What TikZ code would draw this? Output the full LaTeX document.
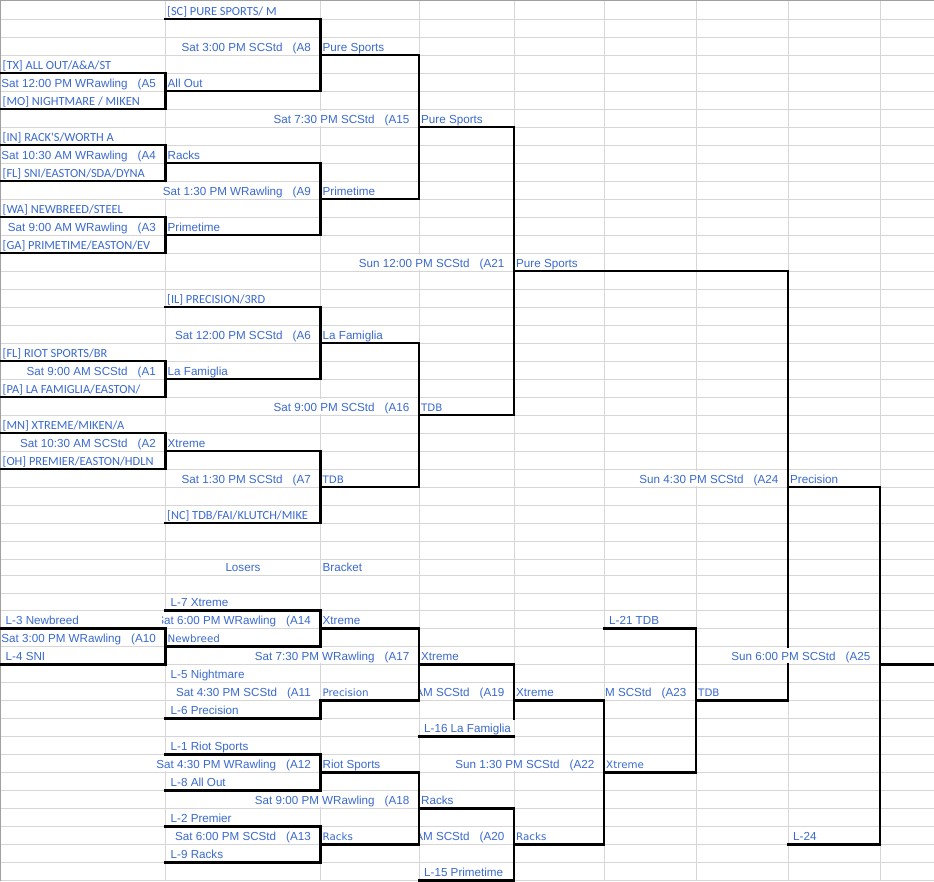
\documentclass[tikz,border=0pt]{standalone}
\usepackage{fontspec}
\setmainfont{Liberation Sans}
\newfontfamily\calfont{Carlito}
\newfontfamily\verfont{DejaVu Sans}
\definecolor{tblue}{RGB}{58,106,206}
\definecolor{gridc}{RGB}{214,214,214}
\definecolor{edgec}{RGB}{160,160,160}
\newcommand{\sgap}{\hspace*{10pt}}
\pgfmathdeclarefunction{rb}{1}{%
  \pgfmathparse{(#1<32)*(1+18*#1)+(#1==32)*575.7+(#1==33)*593+(#1==34)*610.3+(#1>34)*(18*#1-1.7)}%
}
\tikzset{
  cell/.style={inner sep=0pt, text height=12.5pt, text depth=2.8pt, text=tblue},
  ar/.style={cell, font=\fontsize{11.65pt}{13pt}\selectfont},
  cb/.style={cell, font=\calfont\fontsize{12.4pt}{13pt}\selectfont},
  sm/.style={cell, font=\verfont\fontsize{10.3pt}{12pt}\selectfont},
  ovf/.style={fill=white},
  lft/.style={anchor=base west},
  rgt/.style={anchor=base east},
  gridline/.style={draw=gridc, line width=0.9pt},
  edgeline/.style={draw=edgec, line width=1.2pt},
  brk/.style={draw=black, line width=2.75pt, line join=miter, line cap=rect}
}
\begin{document}
\begin{tikzpicture}[x=1pt,y=-1pt]
\useasboundingbox (0,0) rectangle (934,881);
\fill[white] (0,0) rectangle (934,881);
% grid
\foreach \k in {1,...,49}{\draw[gridline] (0,{rb(\k)}) -- (934,{rb(\k)});}
\foreach \xx in {165.5,320.5,419,514,604,696,788,880}{\draw[gridline] (\xx,0) -- (\xx,881);}
\draw[edgeline] (0,0.8) -- (934,0.8);
\draw[edgeline] (0.8,0) -- (0.8,881);

% winners bracket lines
\draw[brk] (165.5,{rb(1)}) -- (320.5,{rb(1)}) -- (320.5,{rb(5)}) -- (165.5,{rb(5)});
\draw[brk] (0,{rb(4)}) -- (165.5,{rb(4)}) -- (165.5,{rb(6)}) -- (0,{rb(6)});
\draw[brk] (320.5,{rb(3)}) -- (419,{rb(3)}) -- (419,{rb(11)}) -- (320.5,{rb(11)});
\draw[brk] (0,{rb(8)}) -- (165.5,{rb(8)}) -- (165.5,{rb(10)}) -- (0,{rb(10)});
\draw[brk] (165.5,{rb(9)}) -- (320.5,{rb(9)}) -- (320.5,{rb(13)}) -- (165.5,{rb(13)});
\draw[brk] (0,{rb(12)}) -- (165.5,{rb(12)}) -- (165.5,{rb(14)}) -- (0,{rb(14)});
\draw[brk] (419,{rb(7)}) -- (514,{rb(7)}) -- (514,{rb(23)}) -- (419,{rb(23)});
\draw[brk] (514,{rb(15)}) -- (788,{rb(15)}) -- (788,{rb(39)}) -- (696,{rb(39)});
\draw[brk] (165.5,{rb(17)}) -- (320.5,{rb(17)}) -- (320.5,{rb(21)}) -- (165.5,{rb(21)});
\draw[brk] (0,{rb(20)}) -- (165.5,{rb(20)}) -- (165.5,{rb(22)}) -- (0,{rb(22)});
\draw[brk] (320.5,{rb(19)}) -- (419,{rb(19)}) -- (419,{rb(27)}) -- (320.5,{rb(27)});
\draw[brk] (0,{rb(24)}) -- (165.5,{rb(24)}) -- (165.5,{rb(26)}) -- (0,{rb(26)});
\draw[brk] (165.5,{rb(25)}) -- (320.5,{rb(25)}) -- (320.5,{rb(29)}) -- (165.5,{rb(29)});
\draw[brk] (788,{rb(27)}) -- (880,{rb(27)}) -- (880,{rb(47)}) -- (788,{rb(47)});
\draw[brk] (880,{rb(37)}) -- (940,{rb(37)});
% losers bracket lines
\draw[brk] (165.5,{rb(34)}) -- (320.5,{rb(34)}) -- (320.5,{rb(36)}) -- (165.5,{rb(36)});
\draw[brk] (0,{rb(35)}) -- (165.5,{rb(35)}) -- (165.5,{rb(37)}) -- (0,{rb(37)});
\draw[brk] (320.5,{rb(35)}) -- (419,{rb(35)}) -- (419,{rb(39)}) -- (320.5,{rb(39)}) -- (320.5,{rb(40)}) -- (165.5,{rb(40)});
\draw[brk] (604,{rb(35)}) -- (696,{rb(35)}) -- (696,{rb(43)}) -- (604,{rb(43)});
\draw[brk] (419,{rb(37)}) -- (514,{rb(37)}) -- (514,{rb(40)});
\draw[brk] (419,{rb(41)}) -- (514,{rb(41)});
\draw[brk] (514,{rb(39)}) -- (604,{rb(39)}) -- (604,{rb(47)}) -- (514,{rb(47)});
\draw[brk] (165.5,{rb(42)}) -- (320.5,{rb(42)}) -- (320.5,{rb(44)}) -- (165.5,{rb(44)});
\draw[brk] (320.5,{rb(43)}) -- (419,{rb(43)}) -- (419,{rb(47)}) -- (320.5,{rb(47)});
\draw[brk] (165.5,{rb(46)}) -- (320.5,{rb(46)}) -- (320.5,{rb(48)}) -- (165.5,{rb(48)});
\draw[brk] (419,{rb(45)}) -- (514,{rb(45)}) -- (514,{rb(49)}) -- (419,{rb(49)});

% winners bracket texts
\node[cb,lft] (t1) at (167,{rb(1)-4}) {[SC] PURE SPORTS/ M};
\node[ar,rgt] (t2) at (311,{rb(3)-4}) {Sat 3:00 PM SCStd\sgap(A8};
\node[ar,lft] (t3) at (322.5,{rb(3)-4}) {Pure Sports};
\node[cb,lft] (t4) at (2.5,{rb(4)-4}) {[TX] ALL OUT/A\&A/ST};
\node[ar,rgt] (t5) at (156,{rb(5)-4}) {Sat 12:00 PM WRawling\sgap(A5};
\node[ar,lft] (t6) at (167.5,{rb(5)-4}) {All Out};
\node[cb,lft] (t7) at (2.5,{rb(6)-4}) {[MO] NIGHTMARE / MIKEN};
\node[ar,rgt,ovf] (t8) at (409.5,{rb(7)-4}) {Sat 7:30 PM SCStd\sgap(A15};
\node[ar,lft] (t9) at (421,{rb(7)-4}) {Pure Sports};
\node[cb,lft] (t10) at (2.5,{rb(8)-4}) {[IN] RACK\textquotesingle S/WORTH A};
\node[ar,rgt] (t11) at (156,{rb(9)-4}) {Sat 10:30 AM WRawling\sgap(A4};
\node[ar,lft] (t12) at (167.5,{rb(9)-4}) {Racks};
\node[cb,lft] (t13) at (2.5,{rb(10)-4}) {[FL] SNI/EASTON/SDA/DYNA};
\node[ar,rgt,ovf] (t14) at (311,{rb(11)-4}) {Sat 1:30 PM WRawling\sgap(A9};
\node[ar,lft] (t15) at (322.5,{rb(11)-4}) {Primetime};
\node[cb,lft] (t16) at (2.5,{rb(12)-4}) {[WA] NEWBREED/STEEL};
\node[ar,rgt] (t17) at (156,{rb(13)-4}) {Sat 9:00 AM WRawling\sgap(A3};
\node[ar,lft] (t18) at (167.5,{rb(13)-4}) {Primetime};
\node[cb,lft] (t19) at (2.5,{rb(14)-4}) {[GA] PRIMETIME/EASTON/EV};
\node[ar,rgt,ovf] (t20) at (504.5,{rb(15)-4}) {Sun 12:00 PM SCStd\sgap(A21};
\node[ar,lft] (t21) at (516,{rb(15)-4}) {Pure Sports};
\node[cb,lft] (t22) at (167,{rb(17)-4}) {[IL] PRECISION/3RD};
\node[ar,rgt] (t23) at (311,{rb(19)-4}) {Sat 12:00 PM SCStd\sgap(A6};
\node[ar,lft] (t24) at (322.5,{rb(19)-4}) {La Famiglia};
\node[cb,lft] (t25) at (2.5,{rb(20)-4}) {[FL] RIOT SPORTS/BR};
\node[ar,rgt] (t26) at (156,{rb(21)-4}) {Sat 9:00 AM SCStd\sgap(A1};
\node[ar,lft] (t27) at (167.5,{rb(21)-4}) {La Famiglia};
\node[cb,lft] (t28) at (2.5,{rb(22)-4}) {[PA] LA FAMIGLIA/EASTON/};
\node[ar,rgt,ovf] (t29) at (409.5,{rb(23)-4}) {Sat 9:00 PM SCStd\sgap(A16};
\node[sm,lft] (t30) at (421,{rb(23)-4}) {TDB};
\node[cb,lft] (t31) at (2.5,{rb(24)-4}) {[MN] XTREME/MIKEN/A};
\node[ar,rgt] (t32) at (156,{rb(25)-4}) {Sat 10:30 AM SCStd\sgap(A2};
\node[ar,lft] (t33) at (167.5,{rb(25)-4}) {Xtreme};
\node[cb,lft] (t34) at (2.5,{rb(26)-4}) {[OH] PREMIER/EASTON/HDLN};
\node[ar,rgt] (t35) at (311,{rb(27)-4}) {Sat 1:30 PM SCStd\sgap(A7};
\node[sm,lft] (t36) at (322.5,{rb(27)-4}) {TDB};
\node[ar,rgt,ovf] (t37) at (778.5,{rb(27)-4}) {Sun 4:30 PM SCStd\sgap(A24};
\node[ar,lft] (t38) at (790,{rb(27)-4}) {Precision};
\node[cb,lft] (t39) at (167,{rb(29)-4}) {[NC] TDB/FAI/KLUTCH/MIKE};

% losers bracket texts
\node[ar,anchor=base] (t40) at (243,{rb(32)-4}) {Losers};
\node[ar,lft] (t41) at (322.5,{rb(32)-4}) {Bracket};
\node[ar,lft] (t42) at (170.5,{rb(34)-4}) {L-7 Xtreme};
\node[ar,lft] (t43) at (5.5,{rb(35)-4}) {L-3 Newbreed};
\begin{scope}
\clip (162,0) rectangle (934,881);
\node[ar,rgt,ovf] (t44) at (311,{rb(35)-4}) {Sat 6:00 PM WRawling\sgap(A14};
\end{scope}
\node[ar,lft] (t45) at (322.5,{rb(35)-4}) {Xtreme};
\node[ar,lft] (t46) at (609,{rb(35)-4}) {L-21 TDB};
\node[ar,rgt] (t47) at (156,{rb(36)-4}) {Sat 3:00 PM WRawling\sgap(A10};
\node[sm,lft] (t48) at (167.5,{rb(36)-4}) {Newbreed};
\node[ar,lft] (t49) at (5.5,{rb(37)-4}) {L-4 SNI};
\node[ar,rgt,ovf] (t50) at (409.5,{rb(37)-4}) {Sat 7:30 PM WRawling\sgap(A17};
\node[ar,lft] (t51) at (421,{rb(37)-4}) {Xtreme};
\node[ar,rgt,ovf] (t52) at (870.5,{rb(37)-4}) {Sun 6:00 PM SCStd\sgap(A25};
\node[ar,lft] (t53) at (170.5,{rb(38)-4}) {L-5 Nightmare};
\node[ar,rgt] (t54) at (311,{rb(39)-4}) {Sat 4:30 PM SCStd\sgap(A11};
\node[sm,lft] (t55) at (322.5,{rb(39)-4}) {Precision};
\begin{scope}
\clip (420.4,0) rectangle (934,881);
\node[ar,rgt] (t56) at (504.5,{rb(39)-4}) {AM SCStd\sgap(A19};
\node[ar,rgt] (t73) at (504.5,{rb(47)-4}) {AM SCStd\sgap(A20};
\end{scope}
\node[ar,lft] (t57) at (516,{rb(39)-4}) {Xtreme};
\begin{scope}
\clip (605.4,0) rectangle (934,881);
\node[ar,rgt] (t58) at (686.5,{rb(39)-4}) {PM SCStd\sgap(A23};
\end{scope}
\node[sm,lft] (t59) at (698,{rb(39)-4}) {TDB};
\node[ar,lft] (t60) at (170.5,{rb(40)-4}) {L-6 Precision};
\node[ar,lft,ovf] (t61) at (424,{rb(41)-4}) {L-16 La Famiglia};
\node[ar,lft] (t62) at (170.5,{rb(42)-4}) {L-1 Riot Sports};
\node[ar,rgt,ovf] (t63) at (311,{rb(43)-4}) {Sat 4:30 PM WRawling\sgap(A12};
\node[ar,lft] (t64) at (322.5,{rb(43)-4}) {Riot Sports};
\node[ar,rgt,ovf] (t65) at (594.5,{rb(43)-4}) {Sun 1:30 PM SCStd\sgap(A22};
\node[sm,lft] (t66) at (606,{rb(43)-4}) {Xtreme};
\node[ar,lft] (t67) at (170.5,{rb(44)-4}) {L-8 All Out};
\node[ar,rgt,ovf] (t68) at (409.5,{rb(45)-4}) {Sat 9:00 PM WRawling\sgap(A18};
\node[ar,lft] (t69) at (421,{rb(45)-4}) {Racks};
\node[ar,lft] (t70) at (170.5,{rb(46)-4}) {L-2 Premier};
\node[ar,rgt] (t71) at (311,{rb(47)-4}) {Sat 6:00 PM SCStd\sgap(A13};
\node[sm,lft] (t72) at (322.5,{rb(47)-4}) {Racks};
\node[sm,lft] (t74) at (516,{rb(47)-4}) {Racks};
\node[ar,lft] (t75) at (793,{rb(47)-4}) {L-24};
\node[ar,lft] (t76) at (170.5,{rb(48)-4}) {L-9 Racks};
\node[ar,lft] (t77) at (424,{rb(49)-4}) {L-15 Primetime};
\end{tikzpicture}
\end{document}
